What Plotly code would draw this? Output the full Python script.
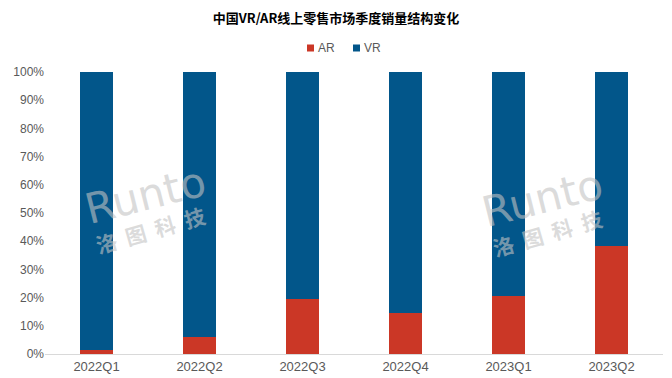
import plotly.graph_objects as go

quarters = ["2022Q1", "2022Q2", "2022Q3", "2022Q4", "2023Q1", "2023Q2"]
ar_share = [1.5, 6.1, 19.5, 14.5, 20.7, 38.3]
vr_share = [100 - v for v in ar_share]
y_ticks = [0, 10, 20, 30, 40, 50, 60, 70, 80, 90, 100]
y_tick_labels = [f"{t}%" for t in y_ticks]
series_names = ["AR", "VR"]
series_colors = ["#CB3726", "#02568A"]

W, H = 672, 378
ML, MR, MT, MB = 45, 9, 72, 24
PW, PH = W - ML - MR, H - MT - MB


def px_x(px):
    return (px - ML) / PW


def px_y(py):
    return (H - MB - py) / PH


fig = go.Figure()
for name, vals, col in zip(series_names, [ar_share, vr_share], series_colors):
    fig.add_trace(go.Bar(name=name, x=quarters, y=vals, marker_color=col,
                         marker_line_width=0, showlegend=False))

fig.update_layout(
    barmode="stack",
    bargap=0.68,
    width=W, height=H,
    margin=dict(l=ML, r=MR, t=MT, b=MB, autoexpand=False),
    plot_bgcolor="white", paper_bgcolor="white",
    font=dict(family="Liberation Sans, Arial", color="#595959", size=12),
    title=dict(text="<b>中国VR/AR线上零售市场季度销量结构变化</b>", x=0.5, xanchor="center",
               xref="container", yref="container",
               y=1 - 18 / H, yanchor="middle",
               font=dict(family="Noto Sans CJK SC", size=13, color="#000000")),
    showlegend=False,
)
fig.update_xaxes(showline=True, linecolor="#D9D9D9", linewidth=1, ticks="",
                 tickfont=dict(size=13, color="#595959"), showgrid=False)
fig.update_yaxes(range=[0, 100], tickvals=y_ticks, ticktext=y_tick_labels, showgrid=False,
                 zeroline=False, tickfont=dict(size=12, color="#595959"), ticks="")

# custom legend (small squares close to text)
for name, col, sq_left in zip(series_names, series_colors, [307, 353]):
    fig.add_shape(type="rect", xref="paper", yref="paper",
                  x0=px_x(sq_left), x1=px_x(sq_left + 7), y0=px_y(51.5), y1=px_y(44.5),
                  fillcolor=col, line_width=0)
    fig.add_annotation(text=name, xref="paper", yref="paper", x=px_x(sq_left + 9), y=px_y(48),
                       xanchor="left", yanchor="middle", showarrow=False,
                       font=dict(size=12, color="#595959"))

# watermarks
for cx, ry, cy in [(145, 195, 230), (542, 198, 233)]:
    fig.add_annotation(text="Runto", xref="paper", yref="paper", x=px_x(cx), y=px_y(ry),
                       xanchor="center", yanchor="middle", showarrow=False, textangle=-14,
                       font=dict(family="DejaVu Sans", size=42, color="rgba(195,195,195,0.6)"))
    fig.add_annotation(text="<b>洛  图  科  技</b>", xref="paper", yref="paper", x=px_x(cx + 5),
                       y=px_y(cy), xanchor="center", yanchor="middle", showarrow=False,
                       textangle=-16,
                       font=dict(family="Noto Sans CJK SC", size=21, color="rgba(195,195,195,0.6)"))

fig.write_html("out.html", post_script="document.body.style.margin='0';",
               config={"displayModeBar": False})
